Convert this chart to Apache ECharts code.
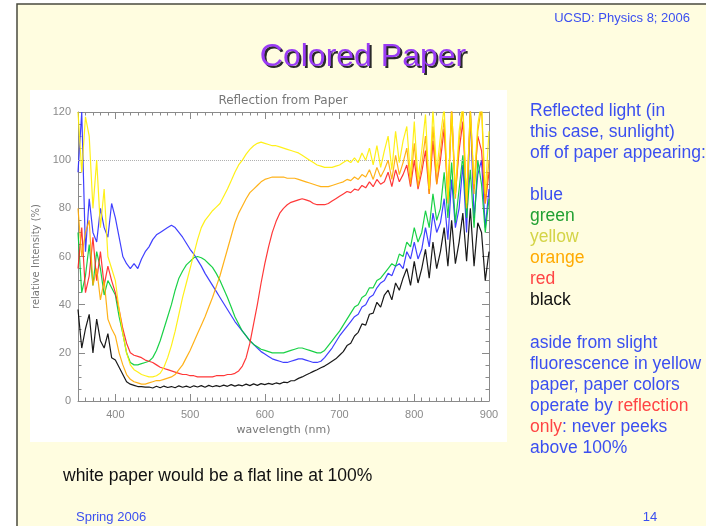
<!DOCTYPE html>
<html>
<head>
<meta charset="utf-8">
<script src="https://cdn.jsdelivr.net/npm/echarts@6/dist/echarts.min.js"></script>
<style>
html, body { margin: 0; padding: 0; background: #fff; }
#main { width: 706px; height: 526px; }
</style>
</head>
<body>
<div id="main"></div>
<script>
// wavelength grid (nm), one value every 5 nm
var wavelength = [
  350,355,360,365,370,375,380,385,390,395,
  400,405,410,415,420,425,430,435,440,445,
  450,455,460,465,470,475,480,485,490,495,
  500,505,510,515,520,525,530,535,540,545,
  550,555,560,565,570,575,580,585,590,595,
  600,605,610,615,620,625,630,635,640,645,
  650,655,660,665,670,675,680,685,690,695,
  700,705,710,715,720,725,730,735,740,745,
  750,755,760,765,770,775,780,785,790,795,
  800,805,810,815,820,825,830,835,840,845,
  850,855,860,865,870,875,880,885,890,895,
  900
];

// relative intensity (%)
var bluePaper = [
  95,120,62,84,70,66,80,72,68,82,
  76,68,60,57,55,57,55,59,62,64,
  67,69,70,71,72,73,72,70,68,65.5,
  63,61,58.5,56,53,50.5,48,45.5,43,40.5,
  38,35.5,33,31,29,27,25,23.5,22,20.5,
  19.5,18.5,17.5,17,16.5,16,16,16.5,17,17.5,
  17.5,17,16.5,16,16,16.5,18,20,22,24.5,
  27,29,31,33,35,36,39,40,43,44,
  47,49,50,53,52,56,57,55,62,59,
  66,59,63,72,64,78,70,74,84,67,
  92,72,80,98,70,120,76,94,100,72,
  88
];
var greenPaper = [
  70,45,52,65,48,62,55,44,50,47,
  44,35,28,20,16,15,15,15.5,16,16.5,
  18,21,25,30,35,40,46,51,54,56.5,
  58,59.5,60,59.5,58.5,57,55.5,53,50,46.5,
  43,39,35,32,29,27,25,23.5,22.5,21.5,
  21,20.5,20,20,20,20,20.5,21,21.5,22,
  22,21.5,21,20.5,20,20,21,23,25,27,
  29,31.5,34,36.5,39,40,43,44,47,47,
  50,51,53,55,57,56,61,60,66,64,
  72,66,70,79,72,86,75,80,95,76,
  99,74,88,102,76,96,72,100,90,70,
  84
];
var yellowPaper = [
  120,95,118,110,80,100,72,88,60,55,
  50,38,28,20,15,13,12,11,10.5,10,
  10,10.5,11.5,14,18,23,29,36,43,49,
  55,61,67,72,75,77,79,80.5,82,85,
  88,91.5,95,98,100,102.5,104.5,106,107,107.5,
  107,106.5,106,106,105.5,105,104.5,104,103.5,103,
  102,101,100,99,98,97.5,97,97,97,97.5,
  98,99,100,99,101,99,103,100,105,98,
  106,97,104,110,96,112,99,108,114,93,
  116,92,104,119,88,121,95,110,122,84,
  122,86,112,124,82,122,90,115,124,86,
  112
];
var orangePaper = [
  80,60,70,75,48,55,42,50,34,30,
  27,20,15,11,9,8,7.5,7,7,7.5,
  8,8.5,8.5,9,9.5,10,11,13,15,18,
  21,24.5,28,31.5,35,39,43,47.5,52,57.5,
  63,68.5,74,78,81,84,86.5,88,89.5,91,
  92,92.5,93,93,93,93,92.5,92.5,92.5,92,
  91.5,91,90.5,90,89.5,89,89,89,89.5,90,
  90.5,91,92,91.5,93,92,94,93,96,92,
  97,93,96,100,92,102,94,99,105,90,
  107,89,98,110,86,114,90,104,117,82,
  119,84,108,122,80,118,86,112,122,82,
  100
];
var redPaper = [
  55,72,45,52,68,50,62,48,56,50,
  45,38,30,24,20,19,18.5,18,17,16.5,
  16,15,14,13.5,13,12.5,12,11.5,11,11,
  10.5,10.5,10,10,10,10,10,10.5,10.5,10.5,
  11,11,11.5,12.5,14.5,18,24,32,40,49,
  57,64,70,74.5,78,80,81.5,82.5,83,83.5,
  84,83.5,83,82,81.5,81.5,81.5,82,83,84,
  85,86,87,86.5,88,87.5,89.5,88.5,91,89,
  92,90,91,95,89,96,91,94,98,89,
  100,88,95,104,86,108,90,100,113,84,
  122,86,104,116,82,121,88,110,104,82,
  95
];
var blackPaper = [
  38,22,30,36,20,34,25,22,28,18,
  17,14,11,8,7,6.5,6,6,5.8,5.8,
  5.4,6.1,5.5,6.2,5.6,6.0,5.5,6.3,5.7,6.2,
  5.6,6.3,5.8,6.4,5.7,6.5,5.9,6.4,6.0,6.6,
  6.1,6.8,6.2,6.7,6.3,7.0,6.4,7.1,6.5,7.2,
  6.8,7.3,6.9,7.5,7.1,7.8,7.6,8.4,8.5,9.4,
  10,10.8,11.5,12.3,13,13.8,14.5,15.5,16.5,17.5,
  19,20.5,23,24,27,28.5,32,31.5,36,36.5,
  41,39,44,46,42,49,46,51,55,48,
  58,49,55,63,51,66,55,62,72,56,
  75,57,66,78,58,80,56,74,70,50,
  62
];

var majorTicks = [400, 500, 600, 700, 800, 900];

var paperNames = ['black', 'blue', 'green', 'red', 'orange', 'yellow'];
var paperValues = [blackPaper, bluePaper, greenPaper, redPaper, orangePaper, yellowPaper];
var paperColors = ['#000000', '#2b2bff', '#00cc33', '#ff2222', '#ffaa00', '#ffee00'];

var axisGrey = '#8a8a8a';
var textBlue = '#3b4ff0';
var textFont = '"Liberation Sans", Arial, sans-serif';

var myChart = echarts.init(document.getElementById('main'));

function pairs(values) {
  return wavelength.map(function (w, i) { return [w, values[i]]; });
}

var series = paperNames.map(function (name, k) {
  var s = {
    name: name,
    type: 'line',
    data: pairs(paperValues[k]),
    showSymbol: false,
    symbol: 'none',
    clip: true,
    lineStyle: { color: paperColors[k], width: 1.2, opacity: 0.9 },
    z: 2 + k
  };
  if (k === 0) {
    s.markLine = {
      silent: true,
      symbol: 'none',
      label: { show: false },
      lineStyle: { color: '#b0b0b0', type: 'dotted', width: 1 },
      data: [{ yAxis: 100 }]
    };
  }
  return s;
});

function xAxisDef(position, major, withLabels) {
  return {
    type: 'value',
    position: position,
    min: 350,
    max: 900,
    interval: 10,
    axisLine: { show: major, lineStyle: { color: axisGrey, width: 1 } },
    axisTick: major
      ? { show: true, inside: true, length: 7, customValues: majorTicks, lineStyle: { color: axisGrey } }
      : { show: true, inside: true, length: 3.5, lineStyle: { color: axisGrey } },
    axisLabel: withLabels
      ? { show: true, customValues: majorTicks, color: axisGrey, fontSize: 11, fontFamily: textFont, margin: 8 }
      : { show: false },
    splitLine: { show: false }
  };
}

var xAxes = [
  xAxisDef('bottom', true, true),
  xAxisDef('bottom', false, false),
  xAxisDef('top', true, false),
  xAxisDef('top', false, false)
];
xAxes[0].name = 'wavelength (nm)';
xAxes[0].nameLocation = 'middle';
xAxes[0].nameGap = 19;
xAxes[0].nameTextStyle = { color: '#777', fontSize: 11, fontFamily: 'DejaVu Sans' };

function yAxisDef(position, withLabels) {
  return {
    type: 'value',
    position: position,
    min: 0,
    max: 120,
    interval: 20,
    axisLine: { show: true, lineStyle: { color: axisGrey, width: 1 } },
    axisTick: { show: true, inside: true, length: 7, lineStyle: { color: axisGrey } },
    minorTick: { show: true, splitNumber: 4, length: 3.5, lineStyle: { color: axisGrey } },
    axisLabel: withLabels
      ? { show: true, color: axisGrey, fontSize: 11, fontFamily: textFont, margin: 7 }
      : { show: false },
    splitLine: { show: false }
  };
}

var yAxes = [yAxisDef('left', true), yAxisDef('right', false)];
yAxes[0].name = 'relative Intensity (%)';
yAxes[0].nameLocation = 'middle';
yAxes[0].nameGap = 34;
yAxes[0].nameTextStyle = { color: '#777', fontSize: 10, fontFamily: 'DejaVu Sans' };

var bodyFont = '17.5px ' + textFont;

function line(text, y, color) {
  return {
    type: 'text', x: 530, y: y, z: 50,
    style: { text: text, fill: color || textBlue, font: bodyFont, textAlign: 'left', textVerticalAlign: 'middle' }
  };
}

var richWords = {
  b: { fill: textBlue, font: bodyFont },
  r: { fill: '#ff4444', font: bodyFont }
};

var option = {
  backgroundColor: '#ffffff',
  animation: false,
  grid: { left: 78, top: 112, width: 411, height: 289 },
  xAxis: xAxes,
  yAxis: yAxes,
  series: series,
  graphic: [
    // slide background with its frame
    { type: 'rect', z: -20, shape: { x: 17, y: 4, width: 720, height: 540 },
      style: { fill: '#fffde0', stroke: '#4a4a3e', lineWidth: 1.5 } },
    // white picture box behind the plot
    { type: 'rect', z: -10, shape: { x: 30, y: 90, width: 477, height: 352 },
      style: { fill: '#ffffff' } },
    { type: 'text', x: 690, y: 18, z: 50,
      style: { text: 'UCSD: Physics 8; 2006', fill: textBlue, font: '13px ' + textFont, textAlign: 'right', textVerticalAlign: 'middle' } },
    { type: 'text', x: 363, y: 57, z: 50,
      style: { text: 'Colored Paper', fill: '#9a3cf5', font: '32px ' + textFont, textAlign: 'center', textVerticalAlign: 'middle',
        textShadowColor: '#2a2a2a', textShadowOffsetX: 2, textShadowOffsetY: 2, textShadowBlur: 0.5 } },
    { type: 'text', x: 283, y: 101, z: 50,
      style: { text: 'Reflection from Paper', fill: '#777', font: '12px "DejaVu Sans"', textAlign: 'center', textVerticalAlign: 'middle' } },
    line('Reflected light (in', 111),
    line('this case, sunlight)', 132),
    line('off of paper appearing:', 153),
    line('blue', 195),
    line('green', 216, '#22a032'),
    line('yellow', 237, '#d4d446'),
    line('orange', 258, '#ffaa00'),
    line('red', 279, '#ff4444'),
    line('black', 300, '#111111'),
    line('aside from slight', 343),
    line('fluorescence in yellow', 364),
    line('paper, paper colors', 385),
    { type: 'text', x: 530, y: 406, z: 50,
      style: { text: '{b|operate by }{r|reflection}', rich: richWords, font: bodyFont, textAlign: 'left', textVerticalAlign: 'middle' } },
    { type: 'text', x: 530, y: 427, z: 50,
      style: { text: '{r|only}{b|: never peeks}', rich: richWords, font: bodyFont, textAlign: 'left', textVerticalAlign: 'middle' } },
    line('above 100%', 448),
    { type: 'text', x: 63, y: 476, z: 50,
      style: { text: 'white paper would be a flat line at 100%', fill: '#111111', font: bodyFont, textAlign: 'left', textVerticalAlign: 'middle' } },
    { type: 'text', x: 76, y: 517, z: 50,
      style: { text: 'Spring 2006', fill: textBlue, font: '13px ' + textFont, textAlign: 'left', textVerticalAlign: 'middle' } },
    { type: 'text', x: 650, y: 517, z: 50,
      style: { text: '14', fill: textBlue, font: '13px ' + textFont, textAlign: 'center', textVerticalAlign: 'middle' } }
  ]
};

myChart.setOption(option);
</script>
</body>
</html>
